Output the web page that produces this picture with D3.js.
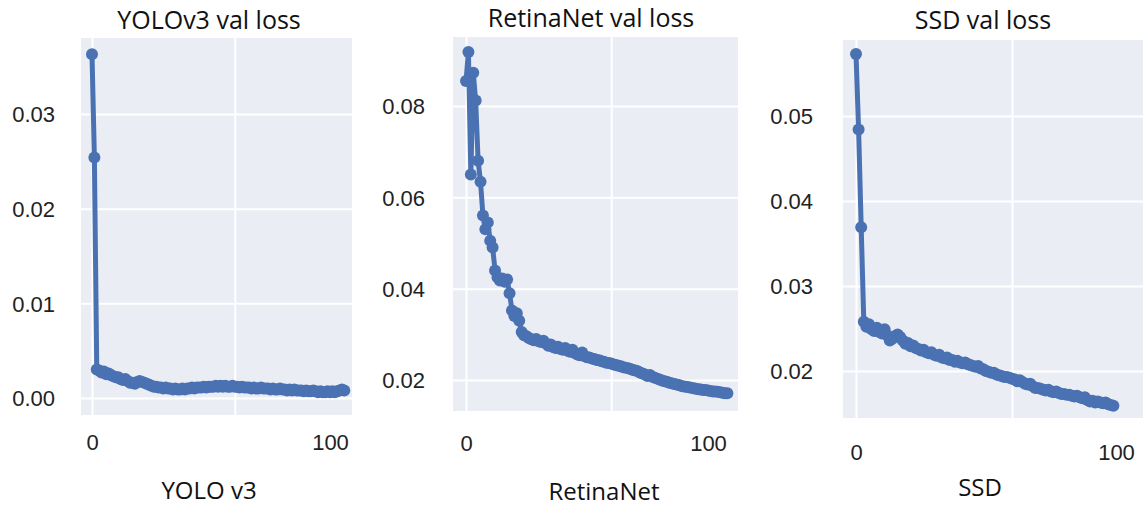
<!DOCTYPE html>
<html>
<head>
<meta charset="utf-8">
<script src="https://cdn.jsdelivr.net/npm/d3@7"></script>
<style>
  html, body { margin: 0; padding: 0; background: #ffffff; }
  svg { display: block; }
</style>
</head>
<body>
<svg id="chart" width="1146" height="510"></svg>
<script>
// ---------- data ----------
const titles = ["YOLOv3 val loss", "RetinaNet val loss", "SSD val loss"];
const xLabels = ["YOLO v3", "RetinaNet", "SSD"];
const xTickLabels = [0, 100];
const xGridTicks = [0, 60];
const yoloTicks = [0.00, 0.01, 0.02, 0.03];
const retinaTicks = [0.02, 0.04, 0.06, 0.08];
const ssdTicks = [0.02, 0.03, 0.04, 0.05];

const yoloLoss = [
  0.0363, 0.0254, 0.0030, 0.0029, 0.0027, 0.0028, 0.0025, 0.0026, 0.0024, 0.0023,
  0.0022, 0.0022, 0.0020, 0.0019, 0.0020, 0.0018, 0.0016, 0.0016, 0.0015, 0.0017,
  0.0018, 0.0017, 0.0016, 0.0015, 0.0014, 0.0013, 0.0012, 0.0012, 0.0011, 0.0011,
  0.0010, 0.0011, 0.0010, 0.0010, 0.0009, 0.0010, 0.0009, 0.0009, 0.0010, 0.0009,
  0.0010, 0.0010, 0.0011, 0.0010, 0.0011, 0.0011, 0.0011, 0.0012, 0.0011, 0.0012,
  0.0012, 0.0012, 0.0013, 0.0012, 0.0013, 0.0012, 0.0013, 0.0012, 0.0012, 0.0013,
  0.0012, 0.0012, 0.0011, 0.0012, 0.0011, 0.0011, 0.0011, 0.0010, 0.0011, 0.0010,
  0.0010, 0.0011, 0.0010, 0.0010, 0.0010, 0.0009, 0.0010, 0.0009, 0.0009, 0.0010,
  0.0009, 0.0009, 0.0008, 0.0009, 0.0008, 0.0009, 0.0008, 0.0008, 0.0008, 0.0007,
  0.0008, 0.0007, 0.0007, 0.0008, 0.0007, 0.0006, 0.0007, 0.0006, 0.0006, 0.0007,
  0.0006, 0.0007, 0.0006, 0.0007, 0.0008, 0.0009, 0.0008
];

const retinaLoss = [
  0.0855, 0.0918, 0.0650, 0.0873, 0.0812, 0.0680, 0.0634, 0.0560, 0.0530, 0.0545,
  0.0505, 0.0490, 0.0440, 0.0425, 0.0418, 0.0422, 0.0415, 0.0420, 0.0390, 0.0352,
  0.0340, 0.0346, 0.0330, 0.0305, 0.0298, 0.0296, 0.0292, 0.0289, 0.0287, 0.0290,
  0.0285, 0.0283, 0.0286, 0.0280, 0.0275, 0.0278, 0.0272, 0.0270, 0.0273, 0.0268,
  0.0266, 0.0270, 0.0264, 0.0262, 0.0266, 0.0259, 0.0256, 0.0254, 0.0260, 0.0252,
  0.0250, 0.0249, 0.0247, 0.0246, 0.0244, 0.0243, 0.0241, 0.0240, 0.0238, 0.0237,
  0.0236, 0.0234, 0.0233, 0.0231, 0.0230, 0.0228, 0.0227, 0.0226, 0.0224, 0.0222,
  0.0221, 0.0219, 0.0216, 0.0214, 0.0212, 0.0209, 0.0211, 0.0207, 0.0205, 0.0203,
  0.0201, 0.0199, 0.0197, 0.0196, 0.0194, 0.0193, 0.0191, 0.0190, 0.0189, 0.0187,
  0.0186, 0.0185, 0.0184, 0.0183, 0.0182, 0.0181, 0.0180, 0.0179, 0.0178, 0.0178,
  0.0177, 0.0176, 0.0175, 0.0175, 0.0174, 0.0173, 0.0172, 0.0171, 0.0171
];

const ssdLoss = [
  0.0573, 0.0484, 0.0369, 0.0258, 0.0252, 0.0255, 0.0249, 0.0247, 0.0251, 0.0246,
  0.0244, 0.0249, 0.0242, 0.0236, 0.0238, 0.0241, 0.0243, 0.0240, 0.0236, 0.0232,
  0.0233, 0.0229, 0.0230, 0.0227, 0.0226, 0.0224, 0.0225, 0.0222, 0.0221, 0.0222,
  0.0219, 0.0218, 0.0219, 0.0216, 0.0215, 0.0216, 0.0213, 0.0213, 0.0211, 0.0212,
  0.0210, 0.0209, 0.0210, 0.0208, 0.0207, 0.0206, 0.0205, 0.0206, 0.0203, 0.0202,
  0.0200, 0.0199, 0.0198, 0.0198, 0.0196, 0.0195, 0.0194, 0.0193, 0.0193, 0.0192,
  0.0191, 0.0190, 0.0188, 0.0189, 0.0187, 0.0185, 0.0184, 0.0185, 0.0182, 0.0180,
  0.0180, 0.0179, 0.0178, 0.0177, 0.0178, 0.0176, 0.0175, 0.0176, 0.0174, 0.0173,
  0.0173, 0.0172, 0.0172, 0.0171, 0.0170, 0.0171, 0.0169, 0.0168, 0.0169, 0.0166,
  0.0164, 0.0165, 0.0163, 0.0164, 0.0163, 0.0162, 0.0163, 0.0161, 0.0160, 0.0159
];

// ---------- layout ----------
const series = [yoloLoss, retinaLoss, ssdLoss];
const yTicks = [yoloTicks, retinaTicks, ssdTicks];
const layout = [
  { bg: [81, 38, 352, 415], x0: 92, x100: 330, yPx: [398, 114], labelGap: 26, xTickY: 442, titleX: 209, titleY: 20, xlabX: 209, xlabY: 491 },
  { bg: [453, 37, 738, 411], x0: 466, x100: 708, yPx: [380, 106], labelGap: 28, xTickY: 443, titleX: 591, titleY: 18, xlabX: 604, xlabY: 492 },
  { bg: [843, 40, 1143, 418], x0: 856, x100: 1116, yPx: [371, 116], labelGap: 30, xTickY: 452, titleX: 983, titleY: 20, xlabX: 980, xlabY: 488 }
];

const lineColor = "#4a72b3";
const bgColor = "#eaedf4";
const svg = d3.select("#chart");

series.forEach((vals, i) => {
  const L = layout[i];
  const ticks = yTicks[i];
  const [bx0, by0, bx1, by1] = L.bg;
  const x = d3.scaleLinear().domain([0, 100]).range([L.x0, L.x100]);
  const y = d3.scaleLinear().domain([ticks[0], ticks[ticks.length - 1]]).range(L.yPx);

  const g = svg.append("g");
  g.append("rect").attr("x", bx0).attr("y", by0)
    .attr("width", bx1 - bx0).attr("height", by1 - by0).attr("fill", bgColor);

  // grid lines
  const gridY = d3.axisLeft(y).tickValues(ticks).tickSize(-(bx1 - bx0)).tickFormat("");
  g.append("g").attr("transform", `translate(${bx0},0)`).call(gridY)
    .call(s => s.select(".domain").remove())
    .call(s => s.selectAll("line").attr("stroke", "#ffffff").attr("stroke-width", 2));
  const gridX = d3.axisBottom(x).tickValues(xGridTicks).tickSize(-(by1 - by0)).tickFormat("");
  g.append("g").attr("transform", `translate(0,${by1})`).call(gridX)
    .call(s => s.select(".domain").remove())
    .call(s => s.selectAll("line").attr("stroke", "#ffffff").attr("stroke-width", 2));

  // y tick labels
  const yAx = d3.axisLeft(y).tickValues(ticks).tickSize(0).tickPadding(0).tickFormat(d3.format(".2f"));
  g.append("g").attr("transform", `translate(${bx0 - L.labelGap},0)`).call(yAx)
    .call(s => s.select(".domain").remove())
    .call(s => s.selectAll("text").attr("font-family", "'Liberation Sans', Arial, sans-serif")
      .attr("font-size", 22).attr("fill", "#222").attr("dy", "0.35em"));

  // x tick labels
  const xAx = d3.axisBottom(x).tickValues(xTickLabels).tickSize(0).tickPadding(0).tickFormat(d3.format("d"));
  g.append("g").attr("transform", `translate(0,${L.xTickY})`).call(xAx)
    .call(s => s.select(".domain").remove())
    .call(s => s.selectAll("text").attr("font-family", "'Liberation Sans', Arial, sans-serif")
      .attr("font-size", 22).attr("fill", "#222").attr("dy", "0.35em"));

  // line + markers
  const line = d3.line().x((d, j) => x(j)).y(d => y(d));
  g.append("path").datum(vals).attr("d", line).attr("fill", "none")
    .attr("stroke", lineColor).attr("stroke-width", 5).attr("stroke-linejoin", "round");
  g.append("g").selectAll("circle").data(vals).join("circle")
    .attr("cx", (d, j) => x(j)).attr("cy", d => y(d)).attr("r", 6).attr("fill", lineColor);

  // title and x label
  g.append("text").attr("x", L.titleX).attr("y", L.titleY).attr("dy", "0.35em")
    .attr("text-anchor", "middle").attr("font-family", "'Open Sans', 'Noto Sans', sans-serif")
    .attr("font-size", 25).attr("fill", "#111").text(titles[i]);
  g.append("text").attr("x", L.xlabX).attr("y", L.xlabY).attr("dy", "0.35em")
    .attr("text-anchor", "middle").attr("font-family", "'Open Sans', 'Noto Sans', sans-serif")
    .attr("font-size", 24).attr("fill", "#111").text(xLabels[i]);
});
</script>
</body>
</html>
